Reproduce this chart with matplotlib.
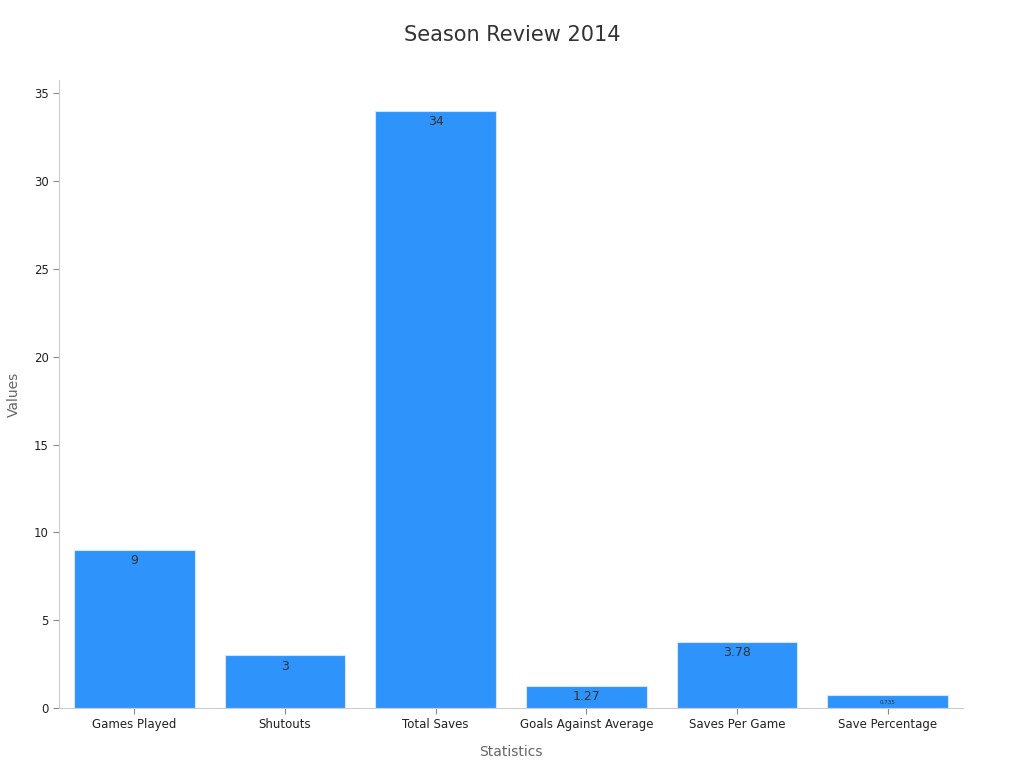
import matplotlib
matplotlib.use('Agg')
import matplotlib.pyplot as plt

# Chart data
categories = ['Games Played', 'Shutouts', 'Total Saves', 'Goals Against Average',
              'Saves Per Game', 'Save Percentage']
values = [9, 3, 34, 1.27, 3.78, 0.735]
value_labels = ['9', '3', '34', '1.27', '3.78', '0.735']

plt.rcParams['font.family'] = ['DejaVu Sans']

fig = plt.figure(figsize=(10.24, 7.68), dpi=100)
ax = fig.add_axes([0.0576, 0.078, 0.8828, 0.818])

x = range(len(categories))
bars = ax.bar(x, values, width=0.8, color='#2E93FA', edgecolor='#D6E6F7', linewidth=0.8)

# Value labels just inside the top of each bar
for bar, lab in zip(bars, value_labels):
    h = bar.get_height()
    fs = 9 if h > 1 else 4
    ax.text(bar.get_x() + bar.get_width() / 2, h - 0.25, lab,
            ha='center', va='top', fontsize=fs, color='#333333')

ax.set_xlim(-0.5, len(categories) - 0.5)
ax.set_ylim(0, 35.75)
ax.set_xticks(list(x))
ax.set_xticklabels(categories, fontsize=8.5, color='#222222')
ax.set_yticks(range(0, 36, 5))
ax.tick_params(axis='y', labelsize=8.5, colors='#222222', length=4, color='#888888')
ax.tick_params(axis='x', length=4, color='#888888', pad=3)

for side in ['top', 'right']:
    ax.spines[side].set_visible(False)
for side in ['left', 'bottom']:
    ax.spines[side].set_color('#CCCCCC')

ax.set_xlabel('Statistics', fontsize=10, color='#666666', labelpad=10)
ax.set_ylabel('Values', fontsize=10, color='#666666', labelpad=9)
fig.suptitle('Season Review 2014', fontsize=15, color='#333333', y=0.968)

plt.savefig('out.png', dpi=100)
plt.close()
